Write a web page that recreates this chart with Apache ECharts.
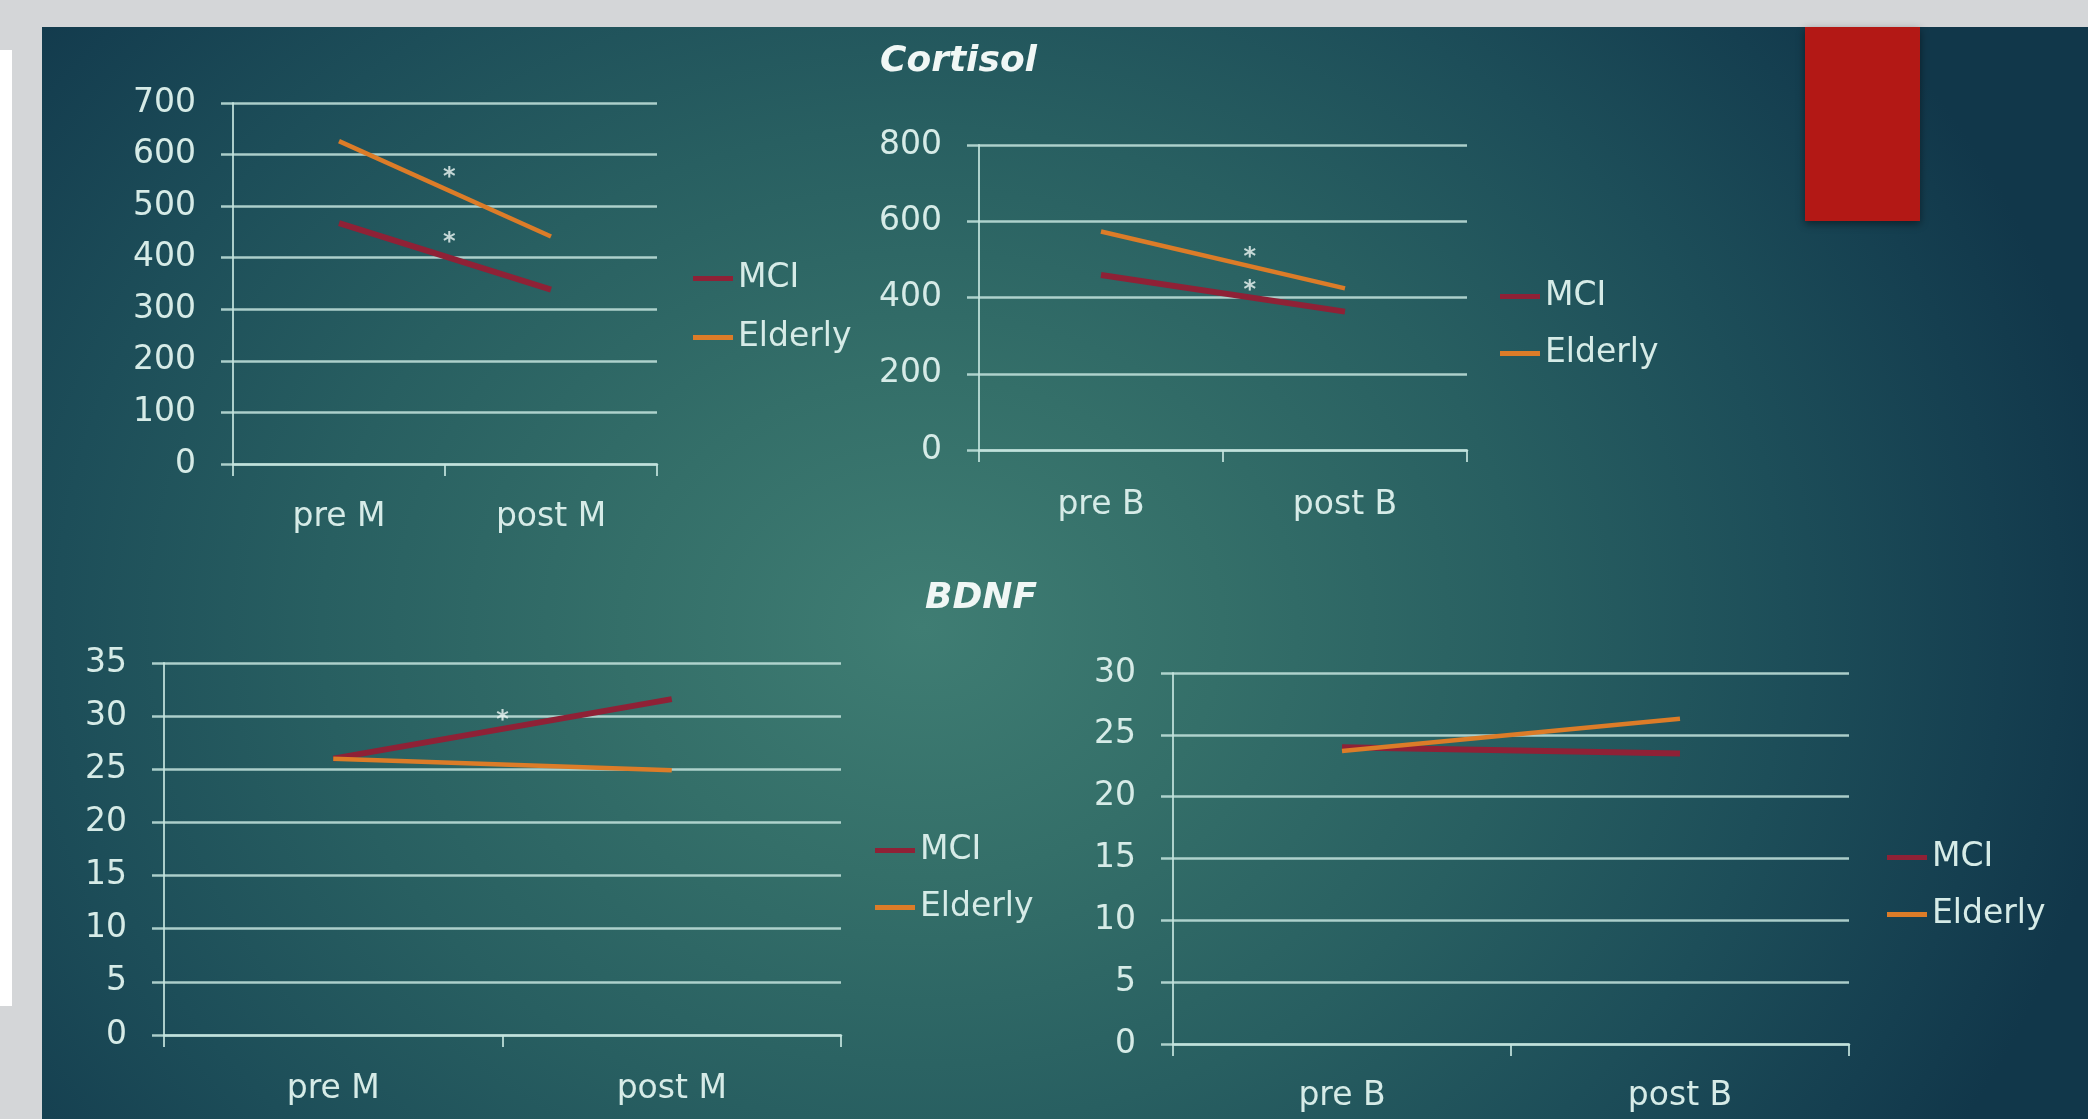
<!DOCTYPE html>
<html>
<head>
<meta charset="utf-8">
<script src="https://cdn.jsdelivr.net/npm/echarts@6/dist/echarts.min.js"></script>
<style>
  html, body { margin: 0; padding: 0; background: #d4d6d8; }
  #frame { position: absolute; left: 0; top: 0; width: 2088px; height: 1119px; background: #d4d6d8; overflow: hidden; }
  #strip { position: absolute; left: 0; top: 50px; width: 12px; height: 956px; background: #ffffff; }
  #panel {
    position: absolute; left: 42px; top: 27px; width: 2046px; height: 1092px;
    background: radial-gradient(ellipse 1200px 1000px at 880px 600px,
      #3f7d73 0%, #346f69 25%, #285f61 50%, #1d4e59 72%, #153f50 90%, #11374a 100%);
  }
  #chart { position: absolute; left: 0; top: 0; width: 2088px; height: 1119px; }
</style>
</head>
<body>
<div id="frame">
  <div id="strip"></div>
  <div id="panel"></div>
  <div id="chart"></div>
</div>
<script>
// ---- data ----
const catsM = ['pre M', 'post M'];
const catsB = ['pre B', 'post B'];
const seriesNames = ['MCI', 'Elderly'];

const cortisolM_MCI = [467, 338];
const cortisolM_Elderly = [626, 441];
const cortisolB_MCI = [459, 363];
const cortisolB_Elderly = [573, 424];

const bdnfM_MCI = [26.0, 31.6];
const bdnfM_Elderly = [26.0, 24.9];
const bdnfB_MCI = [24.0, 23.5];
const bdnfB_Elderly = [23.7, 26.3];

// y-axis ranges: [max, step]
const cortisolM_axis = [700, 100];
const cortisolB_axis = [800, 200];
const bdnfM_axis = [35, 5];
const bdnfB_axis = [30, 5];

// significance marks: [position along the category span (0..2), value]
const cortisolM_sig = [[1.02, 567], [1.02, 441]];
const cortisolB_sig = [[1.11, 520], [1.11, 433]];
const bdnfM_sig = [[1.0, 30.1]];
const bdnfB_sig = [];

const titles = ['Cortisol', 'BDNF'];

// ---- styling ----
const FONT = 'DejaVu Sans';
const TEXT = '#d6ebe7';
const GRIDC = 'rgba(196,228,222,0.85)';
const MCI_COLOR = '#8f2136';
const ELD_COLOR = '#dc7c28';

const panels = [
  { cats: catsM, mci: cortisolM_MCI, eld: cortisolM_Elderly, axis: cortisolM_axis, sig: cortisolM_sig,
    grid: { left: 233, top: 103, width: 424, height: 361 }, labelMargin: 37,
    legend: { left: 693, top: 262, gap: 26 } },
  { cats: catsB, mci: cortisolB_MCI, eld: cortisolB_Elderly, axis: cortisolB_axis, sig: cortisolB_sig,
    grid: { left: 979, top: 145, width: 488, height: 305 }, labelMargin: 39,
    legend: { left: 1500, top: 280, gap: 24 } },
  { cats: catsM, mci: bdnfM_MCI, eld: bdnfM_Elderly, axis: bdnfM_axis, sig: bdnfM_sig,
    grid: { left: 164, top: 663, width: 677, height: 372 }, labelMargin: 38,
    legend: { left: 875, top: 834, gap: 24 } },
  { cats: catsB, mci: bdnfB_MCI, eld: bdnfB_Elderly, axis: bdnfB_axis, sig: bdnfB_sig,
    grid: { left: 1173, top: 673, width: 676, height: 371 }, labelMargin: 36,
    legend: { left: 1887, top: 841, gap: 24 } }
];

const axisText = { color: TEXT, fontSize: 33, fontFamily: FONT };

const grids = [], xAxes = [], yAxes = [], series = [], legends = [];

panels.forEach((p, i) => {
  grids.push(Object.assign({ containLabel: false }, p.grid));

  xAxes.push({
    type: 'category', gridIndex: i, data: p.cats, boundaryGap: true,
    axisLine: { show: true, onZero: false, lineStyle: { color: GRIDC, width: 2.5 } },
    axisTick: { show: true, length: 12, interval: 0, lineStyle: { color: GRIDC, width: 2 } },
    axisLabel: Object.assign({ margin: p.labelMargin, interval: 0 }, axisText),
    splitLine: { show: false }
  });
  xAxes.push({ type: 'value', gridIndex: i, min: 0, max: 2, show: false });

  yAxes.push({
    type: 'value', gridIndex: i, min: 0, max: p.axis[0], interval: p.axis[1],
    axisLine: { show: true, onZero: false, lineStyle: { color: GRIDC, width: 2 } },
    axisTick: { show: true, length: 12, lineStyle: { color: GRIDC, width: 2.5 } },
    axisLabel: Object.assign({ margin: 37 }, axisText),
    splitLine: { show: true, lineStyle: { color: GRIDC, width: 2.5 } }
  });

  series.push({
    type: 'line', name: seriesNames[0], xAxisIndex: 2 * i, yAxisIndex: i,
    data: p.mci, symbol: 'none', color: MCI_COLOR, silent: true, z: 3,
    lineStyle: { width: 6, color: MCI_COLOR }
  });
  series.push({
    type: 'line', name: seriesNames[1], xAxisIndex: 2 * i, yAxisIndex: i,
    data: p.eld, symbol: 'none', color: ELD_COLOR, silent: true, z: 4,
    lineStyle: { width: 4.5, color: ELD_COLOR }
  });
  if (p.sig.length) {
    series.push({
      type: 'scatter', name: 'sig' + i, xAxisIndex: 2 * i + 1, yAxisIndex: i,
      data: p.sig, symbolSize: 1, silent: true, z: 5,
      itemStyle: { color: 'rgba(0,0,0,0)' },
      label: { show: true, position: 'inside', formatter: '*', offset: [0, 6],
               color: '#eef7f5', fontSize: 24, fontFamily: FONT, fontWeight: 'bold' }
    });
  }

  legends.push({
    orient: 'vertical', left: p.legend.left, top: p.legend.top, padding: 0,
    itemGap: p.legend.gap, itemWidth: 40, itemHeight: 5, icon: 'rect',
    selectedMode: false, data: seriesNames,
    textStyle: Object.assign({ lineHeight: 33 }, axisText)
  });
});

const chart = echarts.init(document.getElementById('chart'), null, { renderer: 'canvas' });
chart.setOption({
  backgroundColor: 'transparent',
  animation: false,
  title: [
    { text: titles[0], left: 880, top: 44, padding: 0,
      textStyle: { color: '#f0f7f5', fontSize: 36, fontWeight: 'bold', fontStyle: 'italic', fontFamily: FONT } },
    { text: titles[1], left: 925, top: 581, padding: 0,
      textStyle: { color: '#f0f7f5', fontSize: 36, fontWeight: 'bold', fontStyle: 'italic', fontFamily: FONT } }
  ],
  grid: grids,
  xAxis: xAxes,
  yAxis: yAxes,
  legend: legends,
  series: series,
  graphic: [
    { type: 'rect', left: 1805, top: 27, shape: { width: 115, height: 194 },
      style: { fill: '#b31815', shadowBlur: 8, shadowOffsetY: 3, shadowColor: 'rgba(0,0,0,0.45)' }, z: 10 }
  ]
});
</script>
</body>
</html>
